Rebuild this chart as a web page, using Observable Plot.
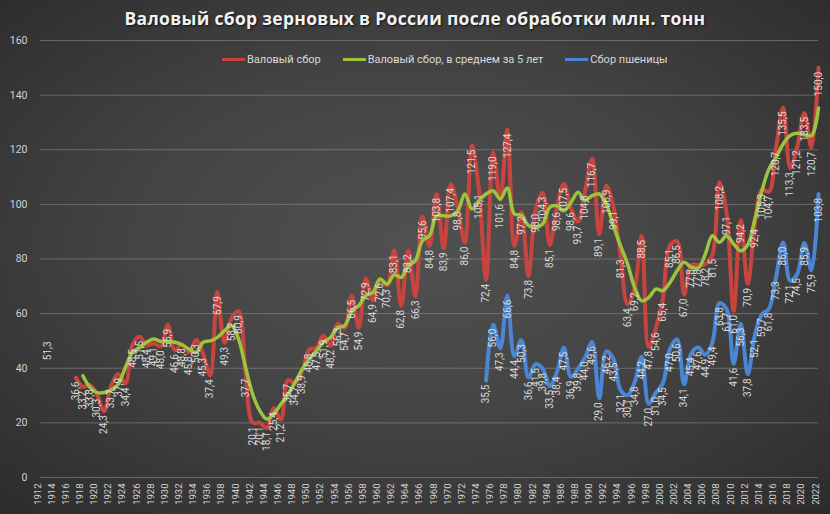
<!DOCTYPE html>
<html><head><meta charset="utf-8">
<script src="https://cdn.jsdelivr.net/npm/d3@7"></script>
<script src="https://cdn.jsdelivr.net/npm/@observablehq/plot@0.6"></script>
<style>
body{margin:0;background:#2a2a2a;}
#wrap{position:relative;width:830px;height:514px;overflow:hidden;
 background:radial-gradient(ellipse 75% 75% at 50% 48%, #515151 0%, #444 45%, #363636 75%, #2a2a2a 100%);}
#title{position:absolute;top:6px;left:0;width:830px;text-align:center;color:#f2f2f2;
 font:bold 17.5px "Open Sans",sans-serif;letter-spacing:0.3px;text-shadow:1px 1px 2px #111;}
#legend{position:absolute;top:53px;left:222px;display:flex;gap:22px;font:11px Roboto,sans-serif;color:#d9d9d9;}
#legend span.it{display:flex;align-items:center;}
#legend i{display:inline-block;width:23px;height:3px;margin-right:2px;}
#chart{position:absolute;left:0;top:0;}
</style></head>
<body><div id="wrap">
<div id="chart"></div>
<div id="title">Валовый сбор зерновых в России после обработки млн. тонн</div>
<div id="legend"></div>
</div>
<script>
const seriesNames = ["Валовый сбор", "Валовый сбор, в среднем за 5 лет", "Сбор пшеницы"];
const seriesColors = ["#c8453f", "#9cc43c", "#4a86d4"];

const yTicks = [0, 20, 40, 60, 80, 100, 120, 140, 160];
const xTickYears = d3.range(1912, 2023, 2);

const redYears = [1913].concat(d3.range(1917, 2023));
const redValues = [51.3,
 36.6,33.2,33.8,30.3,24.3,33.7,37.9,34.4,48.5,51.5,
 48.4,49.1,48.0,55.9,46.6,48.8,45.8,50.3,45.3,37.4,
 67.9,49.3,58.2,60.9,37.7,20.1,20.1,18.1,25.4,21.2,
 35.7,34.7,38.9,46.8,47.5,51.9,48.2,56.3,54.7,66.5,
 54.9,72.9,64.9,72.6,70.3,83.1,62.8,83.2,66.3,95.6,
 84.8,103.8,83.9,107.4,98.8,86.0,121.5,105.1,72.4,119.0,
 101.6,127.4,84.8,97.2,73.8,98.0,104.3,85.1,98.6,107.5,
 98.6,93.7,104.8,116.7,89.1,106.9,99.1,81.3,63.4,69.2,
 88.5,47.8,54.6,65.4,85.1,86.5,67.0,77.8,77.8,78.2,
 81.5,108.2,97.1,61.0,94.2,70.9,92.4,105.3,104.7,120.7,
 135.5,113.3,121.2,133.5,120.7,150.0];

const greenYears = d3.range(1918, 2023);
const greenValues = [
 37.2,33.0,31.1,31.1,32.0,34.2,40.3,45.8,47.6,49.5,
 50.7,49.8,49.8,49.5,48.6,47.0,45.8,49.5,50.0,51.3,
 53.7,55.6,50.7,40.3,30.5,24.5,21.4,23.4,26.9,30.5,
 34.8,39.7,43.4,46.4,49.5,51.3,54.9,55.6,61.0,62.9,
 66.6,67.8,72.7,70.8,74.2,73.3,77.5,79.4,86.7,88.5,
 95.8,95.8,95.8,97.6,103.8,98.3,101.4,103.8,105.0,102.0,
 106.0,96.5,96.0,92.2,91.6,92.8,98.9,99.5,97.7,100.7,
 104.4,101.4,103.2,103.8,100.1,92.2,84.9,78.2,69.6,64.7,
 65.9,69.0,68.4,71.4,75.7,78.8,77.0,76.7,81.8,88.5,
 86.1,88.5,85.5,83.0,85.2,94.6,105.0,113.0,117.2,122.1,
 125.2,126.0,125.5,125.2,135.3];

const blueYears = d3.range(1975, 2023);
const blueValues = [
 35.5,56.0,47.3,66.6,44.4,50.3,36.6,41.5,39.8,33.5,
 38.4,47.5,36.9,39.8,44.0,49.6,29.0,46.2,43.5,32.1,
 30.1,34.8,44.2,27.0,31.0,34.5,47.0,50.6,34.1,45.4,
 47.6,44.9,49.4,63.8,61.7,41.6,56.3,37.8,52.1,59.7,
 61.8,73.3,86.0,72.1,74.5,85.9,75.9,103.8];

const rows = (ys, vs) => ys.map((year, i) => ({year, value: vs[i]}));
const red = rows(redYears, redValues);
const green = rows(greenYears, greenValues);
const blue = rows(blueYears, blueValues);
const fmt = v => d3.format(".1f")(v).replace(".", ",");

const lbl = "#dadada";
const chart = Plot.plot({
  width: 830, height: 514,
  marginLeft: 40, marginRight: 12, marginTop: 40, marginBottom: 37,
  style: {background: "transparent", overflow: "visible"},
  x: {type: "linear", domain: [1912, 2022], axis: null},
  y: {domain: [0, 160], axis: null},
  marks: [
    Plot.ruleY(yTicks, {stroke: "#9a9a9a", strokeOpacity: 0.5, strokeWidth: 1}),
    Plot.text(yTicks, {y: d => d, frameAnchor: "left", text: d => String(d), dx: -13, textAnchor: "end",
      fill: "#d2d2d2", fontSize: 10.5, fontFamily: "Roboto"}),
    Plot.text(xTickYears, {x: d => d, frameAnchor: "bottom", text: d => String(d), rotate: -90,
      textAnchor: "end", dy: 6, fill: "#d2d2d2", fontSize: 9.5, fontFamily: "Roboto"}),
    Plot.line(red.filter(d => d.year >= 1917), {x: "year", y: "value", stroke: seriesColors[0], strokeWidth: 4, curve: "catmull-rom"}),
    Plot.line(green, {x: "year", y: "value", stroke: seriesColors[1], strokeWidth: 3.5, curve: "catmull-rom"}),
    Plot.line(blue, {x: "year", y: "value", stroke: seriesColors[2], strokeWidth: 4, curve: "catmull-rom"}),
    Plot.text(red, {x: "year", y: "value", text: d => fmt(d.value), rotate: -90, textAnchor: "end", dy: 4,
      fill: lbl, fontSize: 10, fontFamily: "Roboto"}),
    Plot.text(blue, {x: "year", y: "value", text: d => fmt(d.value), rotate: -90, textAnchor: "end", dy: 4,
      fill: lbl, fontSize: 10, fontFamily: "Roboto"})
  ]
});
document.getElementById("chart").appendChild(chart);

const lg = document.getElementById("legend");
seriesNames.forEach((n, i) => {
  const s = document.createElement("span"); s.className = "it";
  s.innerHTML = `<i style="background:${seriesColors[i]}"></i>${n}`;
  lg.appendChild(s);
});
</script>
</body></html>
